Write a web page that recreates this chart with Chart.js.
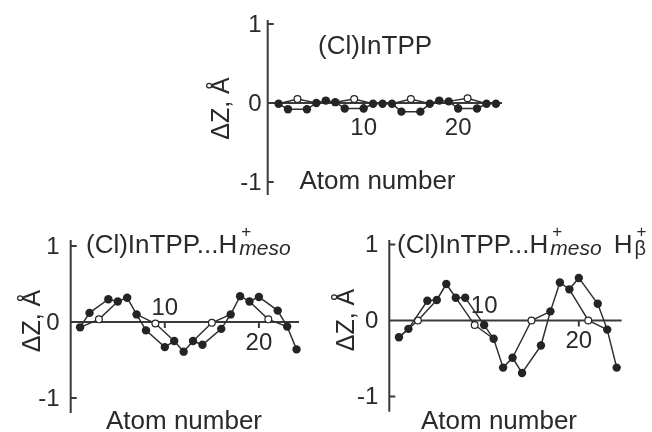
<!DOCTYPE html>
<html>
<head>
<meta charset="utf-8">
<script src="https://cdn.jsdelivr.net/npm/chart.js@4.4.1/dist/chart.umd.min.js"></script>
<style>
html, body { margin: 0; padding: 0; background: #fff; }
#wrap { position: relative; width: 652px; height: 432px; }
#wrap canvas { position: absolute; left: 0; top: 0; }
</style>
</head>
<body>
<div id="wrap">
  <canvas id="cTop" width="652" height="432"></canvas>
  <canvas id="cMeso" width="652" height="432"></canvas>
  <canvas id="cBeta" width="652" height="432"></canvas>
</div>
<script>
// atom numbers along the porphyrin core (N atoms are 3, 9, 15, 21)
var atoms = [1, 2, 3, 4, 5, 6, 7, 8, 9, 10, 11, 12, 13, 14, 15, 16, 17, 18, 19, 20, 21, 22, 23, 24];
var nitrogenAtoms = [3, 9, 15, 21];

// out-of-plane displacement dZ (A) for each atom
var dzInTPP = [-0.01, -0.08, 0.05, -0.08, 0.00, 0.03, 0.01, -0.07, 0.05, -0.07, -0.01, -0.01,
               -0.01, -0.11, 0.05, -0.11, -0.01, 0.03, 0.02, -0.07, 0.06, -0.07, -0.01, -0.01];
var dzMeso = [-0.07, 0.12, 0.035, 0.30, 0.27, 0.32, 0.10, -0.11, -0.02, -0.33, -0.25, -0.39,
              -0.25, -0.30, -0.01, -0.09, 0.10, 0.34, 0.27, 0.33, 0.035, 0.15, -0.06, -0.36];
var dzMesoBeta = [-0.22, -0.11, 0.00, 0.26, 0.27, 0.48, 0.30, 0.30, -0.06, -0.06, -0.24, -0.62,
                  -0.49, -0.69, 0.00, -0.33, 0.12, 0.50, 0.41, 0.56, 0.00, 0.22, -0.12, -0.62];

// how the atoms are joined: outer ring path and the Ca-N-Ca bridges
var outerPath = [1, 2, 4, 5, 6, 7, 8, 10, 11, 12, 13, 14, 16, 17, 18, 19, 20, 22, 23, 24];
var nBridges = [[1, 3, 5], [7, 9, 11], [13, 15, 17], [19, 21, 23]];

var yTicks = [-1, 0, 1];
var yTickLabels = ["-1", "0", "1"];
var xTicks = [10, 20];
var xTickLabels = ["10", "20"];

var fam = '"Liberation Sans", Arial, Helvetica, sans-serif';
var ink = '#2a2a2a';

var panels = [
  { id: 'cTop', values: dzInTPP,
    title: [{ t: '(Cl)InTPP' }], titleX: 318, titleY: 54,
    box: { left: 267.7, right: 502, top: 20, bottom: 195 },
    xr: { min: -0.15, max: 24.64 }, yr: { min: -1.165, max: 1.05 },
    yTitleX: 229, yTitleY: 108.5, xTitleX: 377.5, xTitleY: 189,
    tickGap: 6, xLabelDy: [25, 25] },
  { id: 'cMeso', values: dzMeso,
    title: [{ t: '(Cl)InTPP...H' }, { sup: '+', sub: 'meso' }], titleX: 86, titleY: 253,
    box: { left: 70.7, right: 299, top: 240, bottom: 413 },
    xr: { min: 0, max: 24.26 }, yr: { min: -1.197, max: 1.079 },
    yTitleX: 40, yTitleY: 321, xTitleX: 184, xTitleY: 428.5,
    tickGap: 11, xLabelDy: [-14, 21] },
  { id: 'cBeta', values: dzMesoBeta,
    title: [{ t: '(Cl)InTPP...H' }, { sup: '+', sub: 'meso' }, { t: ' H', dx: 5 }, { sup: '+', sub: '\u03b2', small: true }],
    titleX: 397, titleY: 253,
    box: { left: 389.3, right: 621.7, top: 240, bottom: 411.7 },
    xr: { min: -0.02, max: 24.53 }, yr: { min: -1.2, max: 1.059 },
    yTitleX: 354, yTitleY: 320, xTitleX: 499, xTitleY: 428.5,
    tickGap: 11, xLabelDy: [-14, 21] }
];

function drawTitle(ctx, parts, x, y) {
  ctx.textAlign = 'left';
  ctx.textBaseline = 'alphabetic';
  parts.forEach(function (p) {
    if (p.t) {
      x += p.dx || 0;
      ctx.font = '26px ' + fam;
      ctx.fillText(p.t, x, y);
      x += ctx.measureText(p.t).width;
    } else {
      ctx.font = '17px ' + fam;
      ctx.fillText(p.sup, x + 4, y - 16);
      var w1 = ctx.measureText(p.sup).width + 4;
      ctx.font = p.small ? '20px ' + fam : 'italic 21px ' + fam;
      ctx.fillText(p.sub, x + 2, y + 2);
      var w2 = ctx.measureText(p.sub).width + 2;
      x += Math.max(w1, w2);
    }
  });
}

var axesPlugin = {
  id: 'panelAxes',
  beforeDatasetsDraw: function (chart) {
    var p = chart.options.plugins.panelAxes;
    var ctx = chart.ctx, a = chart.chartArea;
    var xs = chart.scales.x, ys = chart.scales.y;
    var y0 = ys.getPixelForValue(0);
    ctx.save();
    ctx.strokeStyle = '#3a3a3a';
    ctx.lineWidth = 2;
    ctx.beginPath();
    ctx.moveTo(a.left, a.top);
    ctx.lineTo(a.left, a.bottom);
    ctx.moveTo(a.left, y0);
    ctx.lineTo(a.right, y0);
    yTicks.forEach(function (v) {
      var py = ys.getPixelForValue(v);
      ctx.moveTo(a.left, py);
      ctx.lineTo(a.left + 6, py);
    });
    xTicks.forEach(function (v) {
      var px = xs.getPixelForValue(v);
      ctx.moveTo(px, y0);
      ctx.lineTo(px, y0 + 6);
    });
    ctx.stroke();

    ctx.fillStyle = ink;
    ctx.font = '24px ' + fam;
    ctx.textAlign = 'right';
    ctx.textBaseline = 'middle';
    yTicks.forEach(function (v, i) {
      ctx.fillText(yTickLabels[i], a.left - p.tickGap, ys.getPixelForValue(v) + 1);
    });
    ctx.textAlign = 'center';
    xTicks.forEach(function (v, i) {
      ctx.fillText(xTickLabels[i], xs.getPixelForValue(v), y0 + p.xLabelDy[i]);
    });

    ctx.textBaseline = 'alphabetic';
    ctx.font = '26px ' + fam;
    ctx.fillText('Atom number', p.xTitleX, p.xTitleY);

    ctx.save();
    ctx.translate(p.yTitleX, p.yTitleY);
    ctx.rotate(-Math.PI / 2);
    ctx.font = '25px ' + fam;
    ctx.fillText('\u0394Z, \u00c5', 0, 0);
    ctx.restore();

    drawTitle(ctx, p.title, p.titleX, p.titleY);
    ctx.restore();
  }
};

panels.forEach(function (p) {
  function pt(n) { return { x: atoms[n - 1], y: p.values[n - 1] }; }

  var datasets = [{
    data: outerPath.map(pt),
    showLine: true,
    borderColor: '#303030',
    borderWidth: 1.5,
    pointRadius: 4.2,
    pointBackgroundColor: '#242424',
    pointBorderWidth: 0,
    clip: false,
    order: 1
  }];
  nBridges.forEach(function (b) {
    datasets.push({
      data: b.map(pt),
      showLine: true,
      borderColor: '#303030',
      borderWidth: 1.5,
      pointRadius: b.map(function (n) { return nitrogenAtoms.indexOf(n) >= 0 ? 3.4 : 0; }),
      pointBackgroundColor: '#ffffff',
      pointBorderColor: '#242424',
      pointBorderWidth: 1.2,
      clip: false,
      order: 2
    });
  });

  new Chart(document.getElementById(p.id).getContext('2d'), {
    type: 'scatter',
    data: { datasets: datasets },
    options: {
      responsive: false,
      animation: false,
      events: [],
      layout: { padding: { left: p.box.left, right: 652 - p.box.right, top: p.box.top, bottom: 432 - p.box.bottom } },
      scales: {
        x: { type: 'linear', min: p.xr.min, max: p.xr.max, display: false },
        y: { type: 'linear', min: p.yr.min, max: p.yr.max, display: false }
      },
      plugins: {
        legend: { display: false },
        tooltip: { enabled: false },
        panelAxes: p
      }
    },
    plugins: [axesPlugin]
  });
});
</script>
</body>
</html>
